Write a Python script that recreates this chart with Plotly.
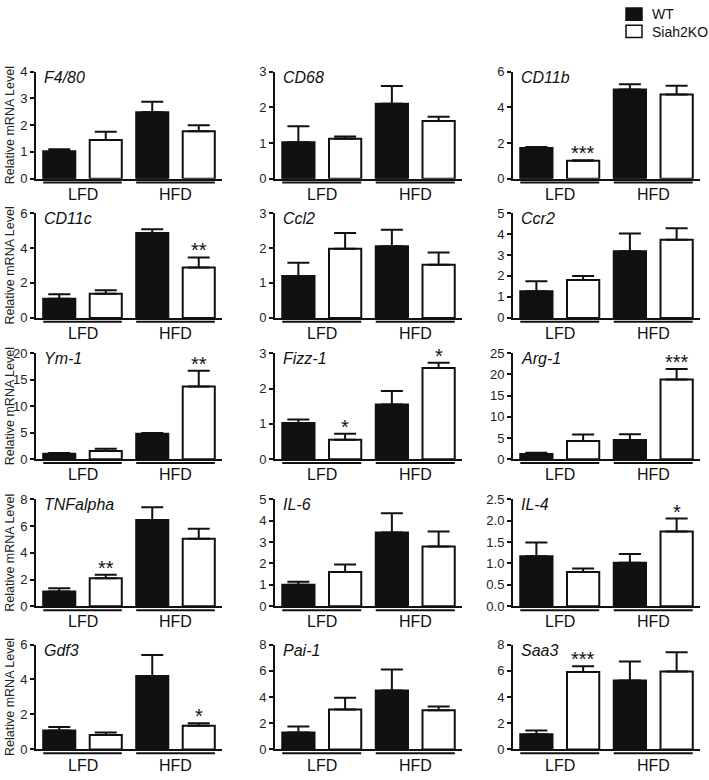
import plotly.graph_objects as go

W, H = 709, 780

genes = ["F4/80", "CD68", "CD11b", "CD11c", "Ccl2", "Ccr2", "Ym-1", "Fizz-1", "Arg-1",
         "TNFalpha", "IL-6", "IL-4", "Gdf3", "Pai-1", "Saa3"]
# order of bars: WT-LFD, KO-LFD, WT-HFD, KO-HFD
wt_lfd = [1.02, 1.02, 1.72, 1.10, 1.20, 1.27, 1.00, 1.02, 1.20, 1.10, 1.00, 1.17, 1.08, 1.30, 1.15]
wt_lfd_err = [0.08, 0.45, 0.05, 0.25, 0.38, 0.48, 0.15, 0.10, 0.30, 0.25, 0.15, 0.32, 0.20, 0.45, 0.30]
ko_lfd = [1.45, 1.12, 1.00, 1.38, 1.98, 1.80, 1.55, 0.55, 4.30, 2.10, 1.60, 0.80, 0.82, 3.05, 5.90]
ko_lfd_err = [0.30, 0.06, 0.03, 0.20, 0.45, 0.20, 0.40, 0.17, 1.50, 0.25, 0.35, 0.08, 0.15, 0.90, 0.45]
wt_hfd = [2.48, 2.10, 5.00, 4.85, 2.05, 3.17, 4.80, 1.55, 4.50, 6.45, 3.45, 1.02, 4.20, 4.50, 5.25]
wt_hfd_err = [0.40, 0.50, 0.30, 0.22, 0.47, 0.85, 0.15, 0.38, 1.40, 0.95, 0.90, 0.20, 1.20, 1.60, 1.45]
ko_hfd = [1.77, 1.62, 4.72, 2.88, 1.52, 3.72, 13.7, 2.58, 18.8, 5.05, 2.80, 1.75, 1.35, 2.98, 5.95]
ko_hfd_err = [0.23, 0.12, 0.50, 0.58, 0.35, 0.55, 3.00, 0.15, 2.50, 0.75, 0.70, 0.30, 0.15, 0.30, 1.45]
sig_ko_lfd = ["", "", "***", "", "", "", "", "*", "", "**", "", "", "", "", "***"]
sig_ko_hfd = ["", "", "", "**", "", "", "**", "*", "***", "", "", "*", "*", "", ""]
y_max = [4, 3, 6, 6, 3, 5, 20, 3, 25, 8, 5, 2.5, 6, 8, 8]
y_dtick = [1, 1, 2, 2, 1, 1, 5, 1, 5, 2, 1, 0.5, 2, 2, 2]
y_tickfmt = ["", "", "", "", "", "", "", "", "", "", "", ".1f", "", "", ""]
groups = ["LFD", "HFD"]
legend_names = ["WT", "Siah2KO"]
y_title = "Relative mRNA Level"

# layout geometry in pixels
col_x = [(36, 222), (275, 462), (513, 700)]
row_y = [(66, 175), (210, 317), (353, 461), (502, 611), (650, 757)]

FONT = "Arial, Liberation Sans, Helvetica, sans-serif"
INK = "#111111"

fig = go.Figure()
shapes = []
annotations = []
layout_axes = {}

for i, g in enumerate(genes):
    r, c = divmod(i, 3)
    x0, x1 = col_x[c]
    yt, yb = row_y[r]
    n = i + 1
    xa = "x" if n == 1 else f"x{n}"
    ya = "y" if n == 1 else f"y{n}"
    xkey = "xaxis" if n == 1 else f"xaxis{n}"
    ykey = "yaxis" if n == 1 else f"yaxis{n}"

    xs = [0, 1, 2, 3]
    vals = [wt_lfd[i], ko_lfd[i], wt_hfd[i], ko_hfd[i]]
    errs = [wt_lfd_err[i], ko_lfd_err[i], wt_hfd_err[i], ko_hfd_err[i]]

    for idx_set, fill in (([0, 2], INK), ([1, 3], "white")):
        fig.add_trace(go.Bar(
            x=[xs[k] for k in idx_set], y=[vals[k] for k in idx_set],
            width=0.69, marker=dict(color=fill, line=dict(color=INK, width=2)),
            error_y=dict(type="data", symmetric=False,
                         array=[errs[k] for k in idx_set],
                         arrayminus=[0 for k in idx_set],
                         color=INK, thickness=2, width=11),
            xaxis=xa, yaxis=ya, showlegend=False, hoverinfo="skip"))

    layout_axes[xkey] = dict(domain=[x0 / W, x1 / W], range=[-0.5, 3.5], anchor=ya,
                             showline=True, linecolor=INK, linewidth=2,
                             showticklabels=False, ticks="", showgrid=False, zeroline=False,
                             fixedrange=True)
    layout_axes[ykey] = dict(domain=[1 - yb / H, 1 - yt / H], range=[0, y_max[i]], anchor=xa,
                             showline=True, linecolor=INK, linewidth=2,
                             ticks="outside", ticklen=4, tickwidth=2, tickcolor=INK,
                             dtick=y_dtick[i], tick0=0, tickformat=y_tickfmt[i],
                             showgrid=False, zeroline=False, ticklabeloverflow="allow",
                             tickfont=dict(family=FONT, size=13, color="#222"),
                             fixedrange=True)

    # group lines and labels
    for gi, gname in enumerate(groups):
        a, b = 2 * gi - 0.345, 2 * gi + 1 + 0.345
        shapes.append(dict(type="line", xref=xa, yref="paper",
                           x0=a, x1=b, y0=1 - (yb + 4) / H, y1=1 - (yb + 4) / H,
                           line=dict(color=INK, width=2)))
        annotations.append(dict(x=gi * 2 + 0.5, xref=xa, y=1 - (yb + 16) / H, yref="paper",
                                text=gname, showarrow=False, yanchor="middle",
                                font=dict(family=FONT, size=16, color=INK)))
    # gene title
    annotations.append(dict(x=0.03, xref=f"{xa} domain", y=1, yref=f"{ya} domain",
                            text=f"<i>{g}</i>", showarrow=False, xanchor="left",
                            yanchor="top", yshift=5,
                            font=dict(family=FONT, size=16, color=INK)))
    # significance
    for k, sig in ((1, sig_ko_lfd[i]), (3, sig_ko_hfd[i])):
        if sig:
            annotations.append(dict(x=k, xref=xa, y=vals[k] + errs[k], yref=ya,
                                    text=sig, showarrow=False, yanchor="bottom",
                                    yshift=-6,
                                    font=dict(family=FONT, size=20, color=INK)))

    if c == 0:
        annotations.append(dict(x=10 / W, xref="paper", y=1 - ((yt + yb) / 2) / H,
                                yref="paper", text=y_title, textangle=-90,
                                xanchor="center", yanchor="middle",
                                showarrow=False, font=dict(family=FONT, size=12.5, color="#222")))

# legend
for li, (name, fill) in enumerate(zip(legend_names, [INK, "white"])):
    top = 1 + li * 17.5
    shapes.append(dict(type="rect", xref="paper", yref="paper",
                       x0=626 / W, x1=642 / W, y0=1 - (top + 12.5) / H, y1=1 - top / H,
                       fillcolor=fill, line=dict(color=INK, width=1.5)))
    annotations.append(dict(x=650 / W, xref="paper", y=1 - (top + 6.5) / H, yref="paper",
                            text=name, showarrow=False, xanchor="left", yanchor="middle",
                            font=dict(family=FONT, size=14, color=INK)))

fig.update_layout(
    width=W, height=H, margin=dict(l=0, r=0, t=0, b=0),
    paper_bgcolor="white", plot_bgcolor="white", barmode="overlay",
    shapes=shapes, annotations=annotations, showlegend=False,
    **layout_axes)

fig.write_html("out.html", config={"displayModeBar": False},
               post_script="document.body.style.margin='0';document.body.style.padding='0';"
                           "document.body.style.overflow='hidden';")
